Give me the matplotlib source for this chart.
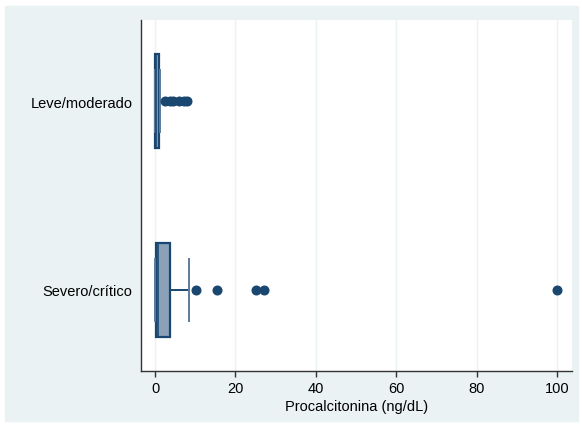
import matplotlib.pyplot as plt
from matplotlib.patches import Rectangle

plt.rcParams['font.family'] = ['Liberation Sans', 'DejaVu Sans']

groups = ["Severo/crítico", "Leve/moderado"]
q1 = [0.3, 0.05]
med = [0.8, 0.3]
q3 = [3.7, 0.9]
whislo = [0.05, 0.0]
whishi = [8.4, 1.3]
fliers = [
    [10.3, 15.5, 25.1, 27.2, 100.0],
    [2.4, 3.6, 4.4, 5.9, 7.3, 7.9],
]
xticks = [0, 20, 40, 60, 80, 100]

navy = "#1a476f"
bg = "#eaf2f3"

fig = plt.figure(figsize=(5.82, 4.27), dpi=100)
# light graph region behind the plot area
fig.patches.append(Rectangle((5 / 582, 5 / 427), 573 / 582, 415 / 427,
                             transform=fig.transFigure, color=bg, zorder=-10))
ax = fig.add_axes([141 / 582, 55 / 427, 431 / 582, 351 / 427])
ax.set_facecolor("white")

stats = []
for i in range(len(groups)):
    stats.append(dict(med=med[i], q1=q1[i], q3=q3[i], whislo=whislo[i],
                      whishi=whishi[i], fliers=fliers[i], label=groups[i]))

ax.bxp(stats, positions=[0, 1], widths=0.5, orientation='horizontal',
       patch_artist=True, capwidths=0.33, showfliers=True,
       boxprops=dict(facecolor="#8aa1b7", edgecolor=navy, linewidth=1.6),
       medianprops=dict(color=navy, linewidth=1.2),
       whiskerprops=dict(color=navy, linewidth=1.4),
       capprops=dict(color="#5d7b9b", linewidth=1.4),
       flierprops=dict(marker='o', markerfacecolor=navy, markeredgecolor=navy,
                       markersize=6.2, linestyle='none'))

ax.set_xlim(-3.5, 103.7)
ax.set_ylim(-0.43, 1.43)
ax.set_xticks(xticks)
ax.set_yticks([0, 1])
ax.set_yticklabels(groups, fontsize=10.5)
ax.tick_params(axis='y', length=0, pad=6)
ax.tick_params(axis='x', length=4, width=1, color="#333333", labelsize=10.5, pad=3)
ax.set_xlabel("Procalcitonina (ng/dL)", fontsize=10.5, labelpad=3)
ax.grid(axis='x', color=bg, linewidth=1)
ax.set_axisbelow(True)
for s in ["top", "right"]:
    ax.spines[s].set_visible(False)
for s in ["left", "bottom"]:
    ax.spines[s].set_color("#333333")
    ax.spines[s].set_linewidth(1)

fig.savefig("out.png", dpi=100)
